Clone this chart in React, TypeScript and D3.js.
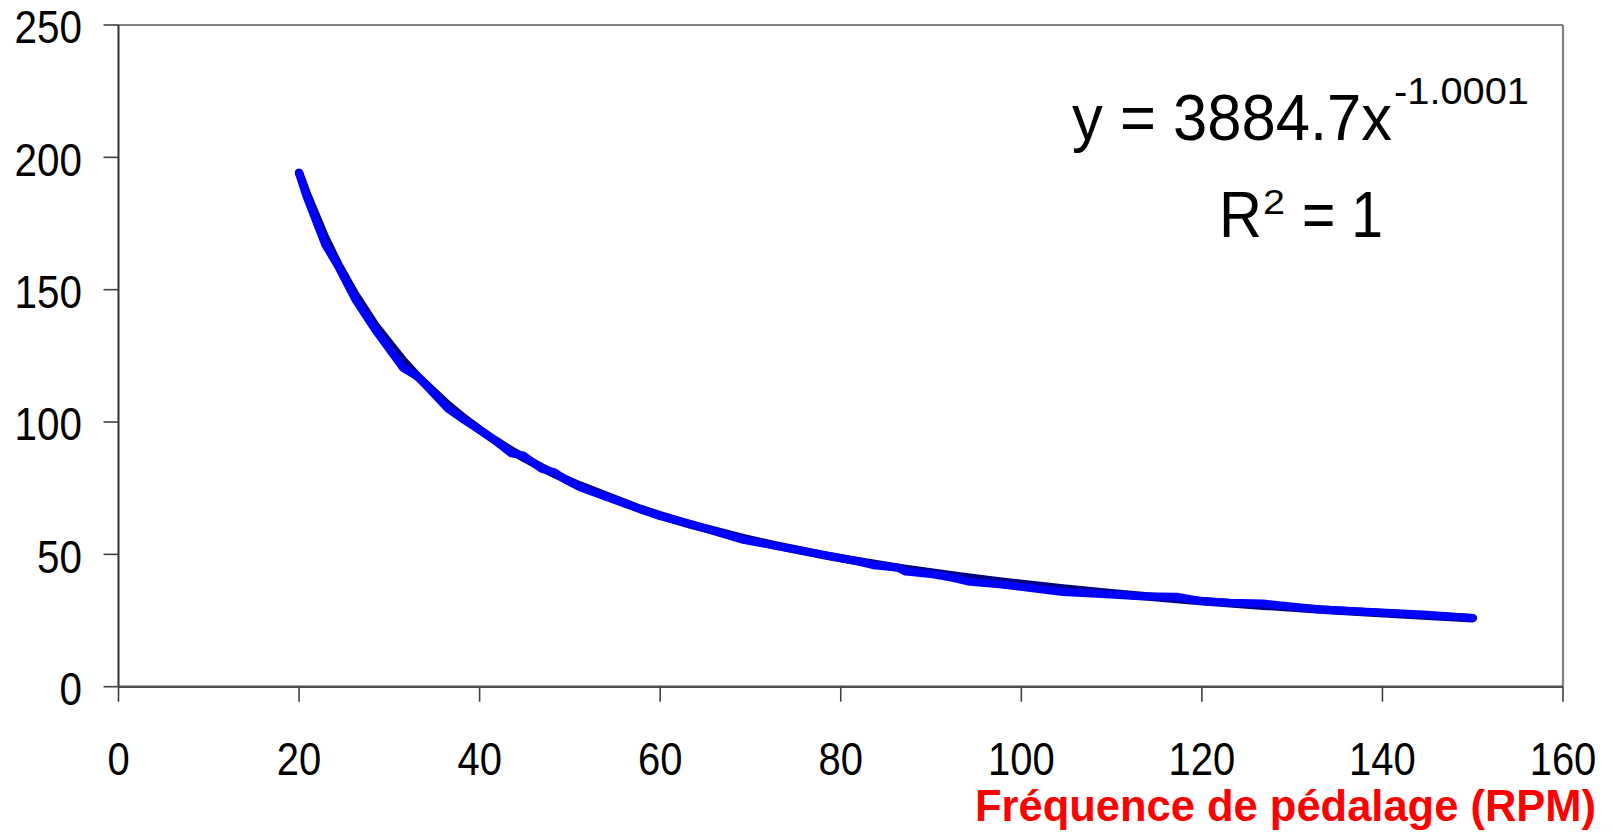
import React from "react";
import * as d3 from "d3";

// Measured points: cadence (RPM) and the corresponding value
const cadence = [
  20, 20.8, 22.9, 24.3, 26.2, 28.4, 31.5, 33.2, 36.5, 38.4, 40, 41.7, 43.5, 44.8,
  46.9, 48.3, 49.6, 51.1, 57.8, 60, 63.3, 69.2, 72.5, 78.4, 81.4, 83.6, 86.3, 87.2,
  90.2, 92.4, 94.3, 97.6, 104.6, 109.4, 113.1, 117.2, 119.8, 123.1, 126.8, 133.1,
  138.2, 144.5, 150,
];
const measured = [
  194, 185.5, 167, 159, 146.5, 135, 120.5, 117, 105, 100.5, 97, 93, 88.2, 87.4,
  82.3, 81, 78, 75.4, 67, 64.4, 61.5, 55.5, 53.4, 49.6, 47.7, 45.9, 45, 43.5,
  42.5, 41.1, 39.6, 38.7, 35.8, 34.9, 34.2, 34, 32.4, 31.7, 31.4, 29.2,
  28.3, 27.3, 26,
];

// Power trendline coefficients (y = a * x^b)
const trendA = 3884.7;
const trendB = -1.0001;
const rSquared = 1;

const xTicks = [0, 20, 40, 60, 80, 100, 120, 140, 160];
const yTicks = [0, 50, 100, 150, 200, 250];
const xTitle = "Fréquence de pédalage (RPM)";

const W = 1613;
const H = 832;
const FONT = "'Liberation Sans', Arial, Helvetica, sans-serif";
const SQUEEZE = 0.86;

export default function App() {
  const x = d3.scaleLinear().domain([0, 160]).range([118.5, 1563]);
  const y = d3.scaleLinear().domain([0, 250]).range([686.7, 25]);

  const dataPts: [number, number][] = cadence.map((c, i) => [c, measured[i]]);
  const trendPts: [number, number][] = cadence.map((c) => [c, trendA * Math.pow(c, trendB)]);

  const line = d3
    .line<[number, number]>()
    .x((d) => x(d[0]))
    .y((d) => y(d[1]));

  const [x0, x1] = x.range();
  const [yb, yt] = y.range();

  return (
    <svg
      width={W}
      height={H}
      style={{ position: "fixed", left: 0, top: 0, display: "block", background: "#fff" }}
      fontFamily={FONT}
    >
      {/* plot frame */}
      <line x1={x0} y1={yt} x2={x1} y2={yt} stroke="#808080" strokeWidth={2.2} />
      <line x1={x1} y1={yt} x2={x1} y2={yb} stroke="#808080" strokeWidth={2.2} />

      {/* axes */}
      <line x1={x0} y1={yt} x2={x0} y2={yb} stroke="#303030" strokeWidth={2} />
      <line x1={x0} y1={yb} x2={x1} y2={yb} stroke="#505050" strokeWidth={2.4} />

      {yTicks.map((t) => (
        <g key={"y" + t}>
          <line x1={x0 - 15} x2={x0} y1={y(t)} y2={y(t)} stroke="#404040" strokeWidth={1.6} />
          <text
            transform={`translate(82,${y(t) + 18.3}) scale(${SQUEEZE},1)`}
            textAnchor="end"
            fontSize={47}
            fill="#000"
          >
            {t}
          </text>
        </g>
      ))}

      {xTicks.map((t) => (
        <g key={"x" + t}>
          <line x1={x(t)} x2={x(t)} y1={yb} y2={yb + 15} stroke="#404040" strokeWidth={1.6} />
          <text
            transform={`translate(${x(t)},774.5) scale(${SQUEEZE},1)`}
            textAnchor="middle"
            fontSize={46.5}
            fill="#000"
          >
            {t}
          </text>
        </g>
      ))}

      {/* trendline beneath, measurements on top */}
      <path
        d={line(trendPts) || ""}
        fill="none"
        stroke="#000080"
        strokeWidth={8.5}
        strokeLinejoin="round"
        strokeLinecap="round"
      />
      <path
        d={line(dataPts) || ""}
        fill="none"
        stroke="#0000FF"
        strokeWidth={8}
        strokeLinejoin="round"
        strokeLinecap="round"
      />

      {/* trendline equation */}
      <text x={1072} y={139.5} fontSize={65} textLength={320} lengthAdjust="spacingAndGlyphs">
        {`y = ${trendA}x`}
      </text>
      <text x={1394} y={103.5} fontSize={37} textLength={135} lengthAdjust="spacingAndGlyphs">
        {`${trendB}`}
      </text>
      <text x={1219} y={237} fontSize={65} textLength={43} lengthAdjust="spacingAndGlyphs">
        R
      </text>
      <text x={1263} y={214} fontSize={35} textLength={22} lengthAdjust="spacingAndGlyphs">
        2
      </text>
      <text x={1302} y={237} fontSize={65} textLength={81} lengthAdjust="spacingAndGlyphs">
        {`= ${rSquared}`}
      </text>

      {/* axis title */}
      <text
        x={975}
        y={821}
        fontSize={44.5}
        fontWeight="bold"
        fill="#FF0000"
        textLength={621}
        lengthAdjust="spacingAndGlyphs"
      >
        {xTitle}
      </text>
    </svg>
  );
}
